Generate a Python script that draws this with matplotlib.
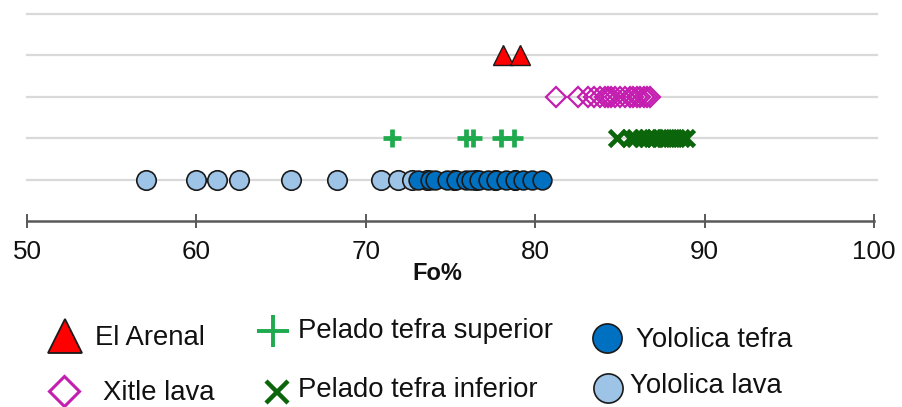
import matplotlib
matplotlib.use("Agg")
import matplotlib.pyplot as plt

plt.rcParams['font.family'] = ['Liberation Sans', 'DejaVu Sans']

# Olivine forsterite content (Fo%) by sample group
el_arenal = [78.1, 79.1]
xitle_lava = [81.2, 82.5, 83.1, 83.5, 83.8, 84.1, 84.3, 84.5, 84.7, 85.0,
              85.3, 85.6, 85.8, 86.0, 86.2, 86.4, 86.6, 86.8]
pelado_superior = [71.55, 75.9, 76.3, 78.0, 78.75]
pelado_inferior = [84.8, 85.6, 85.9, 86.3, 86.6, 86.9, 87.1, 87.4, 87.7,
                   88.0, 88.3, 88.6, 88.9]
yololica_lava = [57.0, 60.0, 61.2, 62.5, 65.6, 68.3, 70.9, 71.9, 72.7,
                 73.6, 75.2, 76.5, 77.6, 78.8]
yololica_tefra = [73.1, 73.8, 74.1, 74.8, 75.3, 75.9, 76.2, 76.7, 77.2,
                  77.7, 78.3, 78.8, 79.3, 79.8, 80.4]

x_ticks = [50, 60, 70, 80, 90, 100]
row_lines = [1, 2, 3, 4, 5]

# (label, values, row, marker style, legend-marker style)
series = [
    ("Yololica lava", yololica_lava, 1,
     dict(marker='o', ms=14, mfc='#9DC3E6', mec='#1a1a1a', mew=1.2),
     dict(ms=21)),
    ("Yololica tefra", yololica_tefra, 1,
     dict(marker='o', ms=13.5, mfc='#0070C0', mec='#1a1a1a', mew=1.2),
     dict(ms=21)),
    ("Pelado tefra superior", pelado_superior, 2,
     dict(marker='+', ms=13, mec='#1FAA4E', mew=3.4),
     dict(ms=23, mew=2.8)),
    ("Pelado tefra inferior", pelado_inferior, 2,
     dict(marker='x', ms=12, mec='#0B650B', mew=3.4),
     dict(ms=16, mew=3.2)),
    ("Xitle lava", xitle_lava, 3,
     dict(marker='D', ms=10.5, mfc='none', mec='#C41EB0', mew=1.6),
     dict(ms=15.5, mew=2.2)),
    ("El Arenal", el_arenal, 4,
     dict(marker='^', ms=14, mfc='#FF0000', mec='#1a1a1a', mew=1.0),
     dict(ms=25, mew=1.3)),
]

W, H = 902, 407
fig = plt.figure(figsize=(W / 100, H / 100), dpi=100)
ax = fig.add_axes([27 / W, 186 / H, 847 / W, 207 / H])

ax.set_xlim(50, 100)
ax.set_ylim(0, 5)

for y in row_lines:
    ax.axhline(y, xmin=0, xmax=1.004, color='#D9D9D9', lw=1.6,
               zorder=0, clip_on=False)

for label, vals, row, style, _ in series:
    ax.plot(vals, [row] * len(vals), ls='none', zorder=3, clip_on=False,
            **style)

for side in ('left', 'right', 'top'):
    ax.spines[side].set_visible(False)
ax.spines['bottom'].set_color('#595959')
ax.spines['bottom'].set_linewidth(1.8)

ax.set_yticks([])
ax.set_xticks(x_ticks)
ax.set_xticklabels([str(t) for t in x_ticks])
ax.tick_params(axis='x', direction='inout', length=10, width=1.4,
               color='#595959', labelsize=18.7, pad=9, labelcolor='#111111')

xl = ax.set_xlabel('Fo%', fontsize=17, fontweight='bold', color='#111111')
ax.xaxis.set_label_coords(0.484, -0.255)
xl.set_va('center')

# legend block laid out in pixel coordinates below the axis
lax = fig.add_axes([0, 0, 1, 1], zorder=-1)
lax.set_xlim(0, W)
lax.set_ylim(H, 0)
lax.axis('off')

legend_layout = {
    "El Arenal": ((65, 336), (95, 338)),
    "Xitle lava": ((64, 391), (103, 393)),
    "Pelado tefra superior": ((273, 331), (298, 331)),
    "Pelado tefra inferior": ((277, 392), (298, 390)),
    "Yololica tefra": ((607, 338), (636, 340)),
    "Yololica lava": ((608, 388), (630, 386)),
}

for label, vals, row, style, lstyle in series:
    (mx, my), (tx, ty) = legend_layout[label]
    s = dict(style)
    s.update(lstyle)
    lax.plot([mx], [my], ls='none', clip_on=False, **s)
    lax.text(tx, ty, label, fontsize=19.8, va='center', ha='left',
             color='#111111')

fig.savefig('out.png', dpi=100)
